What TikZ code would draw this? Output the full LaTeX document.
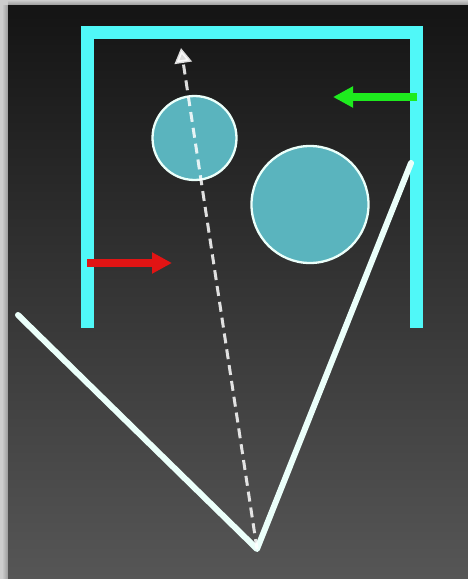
\documentclass[tikz,border=0pt]{standalone}
\usetikzlibrary{arrows.meta}
\definecolor{framecyan}{RGB}{80,248,248}
\definecolor{ballfill}{RGB}{90,180,190}
\definecolor{ballline}{RGB}{235,255,250}
\definecolor{vline}{RGB}{235,255,250}
\definecolor{arrgreen}{RGB}{30,235,30}
\definecolor{arrred}{RGB}{225,20,20}
\definecolor{panel}{RGB}{205,205,205}
\tikzset{
  framebar/.style={draw=framecyan,line width=13pt,line join=miter},
  ball/.style={circle,draw=ballline,fill=ballfill,line width=2.3pt,inner sep=0pt},
  mirror/.style={draw=vline,line width=6pt,line cap=round,line join=round},
  ray/.style={draw=white,opacity=0.85,line width=3pt,dash pattern=on 10pt off 6pt,
     -{Triangle[width=17pt,length=15pt]}},
  push/.style={line width=7.5pt,-{Triangle[width=20pt,length=20pt]}}
}
\begin{document}
\begin{tikzpicture}[x=1pt,y=-1pt]
\useasboundingbox (0,0) rectangle (468,579);
% outer light margin
\fill[panel] (0,0) rectangle (468,579);
\shade[left color=panel,right color=black!40] (2,5) rectangle (8,579);
\shade[top color=panel,bottom color=black!40] (8,0) rectangle (468,5);
% dark panel
\shade[top color={rgb,255:red,20;green,20;blue,20},bottom color={rgb,255:red,86;green,86;blue,86}] (8,5) rectangle (468,579);
% frame
\coordinate (fl) at (87.5,328);
\coordinate (ftl) at (87.5,32.5);
\coordinate (ftr) at (416.5,32.5);
\coordinate (fr) at (416.5,328);
\draw[framebar] (fl) -- (ftl) -- (ftr) -- (fr);
% mirrors (V)
\coordinate (mleft) at (18,315);
\coordinate (vertex) at (257,549);
\coordinate (mright) at (411,163);
\draw[mirror] (mleft) -- (vertex) -- (mright);
% balls
\node[ball,minimum size=84pt] (small) at (194.5,138) {};
\node[ball,minimum size=117pt] (big) at (310,204.5) {};
% dashed ray
\coordinate (raytip) at (181,48);
\draw[ray] (vertex) -- (raytip);
% arrows
\coordinate (gstart) at (417,97);
\coordinate (gend) at (333,97);
\draw[push,arrgreen] (gstart) -- (gend);
\coordinate (rstart) at (87,263);
\coordinate (rend) at (172,263);
\draw[push,arrred] (rstart) -- (rend);
\end{tikzpicture}
\end{document}
